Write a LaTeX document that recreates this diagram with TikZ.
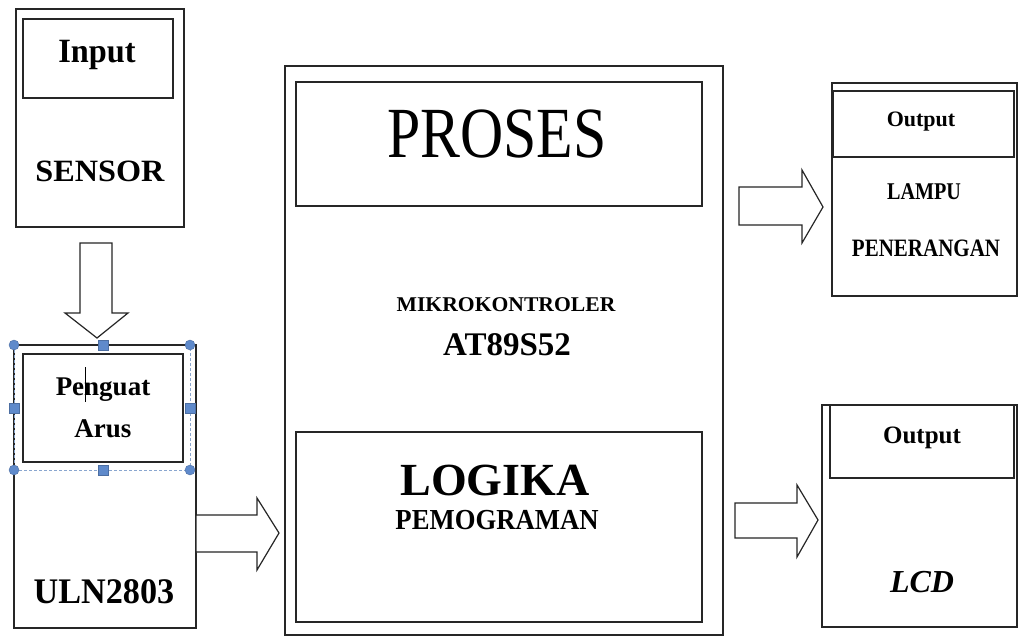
\documentclass[tikz,border=0pt]{standalone}
\usepackage{fontspec}
\usepackage{graphicx}
\setmainfont{Liberation Serif}
\definecolor{linec}{HTML}{262626}
\definecolor{selblue}{HTML}{5F8ACB}
\definecolor{seldash}{HTML}{8AA6CF}
\newcommand{\fs}[1]{\fontsize{#1}{#1}\selectfont}
\newcommand{\hs}[2]{\scalebox{#1}[1]{#2}}
\begin{document}
\begin{tikzpicture}[x=1pt,y=-1pt,
  box/.style={draw=linec, line width=1.3pt, fill=white, inner sep=0pt, outer sep=0pt},
  lbl/.style={anchor=base, inner sep=0pt, text=black},
  blk/.style={draw=linec, line width=1.2pt, fill=white, line join=miter},
  hnd/.style={fill=selblue, draw=selblue!80!black, line width=0.4pt}]
\useasboundingbox (0,0) rectangle (1019,639);
\fill[white] (0,0) rectangle (1019,639);

% left column
\node[box, minimum width=168pt, minimum height=218pt] (sensor) at (100,118) {};
\node[box, minimum width=150pt, minimum height=79pt] (input) at (98,58.5) {};
\node[lbl] (tinput) at (97,63) {\fs{34}\bfseries\hs{0.95}{Input}};
\node[lbl] (tsensor) at (100,182) {\fs{31}\bfseries\hs{1.04}{SENSOR}};

\node[box, minimum width=182pt, minimum height=283pt] (uln) at (105,486.5) {};
\node[box, minimum width=160pt, minimum height=108pt] (penguat) at (103,408) {};
\node[lbl] (tpenguat) at (103,395) {\fs{27}\bfseries Penguat};
\node[lbl] (tarus) at (103,437) {\fs{27}\bfseries Arus};
\node[lbl] (tuln) at (104,603) {\fs{36}\bfseries\hs{0.95}{ULN2803}};
\draw[black, line width=1pt] (85,367) -- (85,402);

% selection frame
\draw[seldash, line width=0.7pt, dash pattern=on 3pt off 2pt] (14,345) rectangle (190,470);
\draw[linec, line width=1.3pt] (14,345) -- (190,345);
\foreach \p in {(14,345),(190,345),(14,470),(190,470)} \draw[hnd] \p circle (5);
\foreach \p in {(103,345),(14,408),(190,408),(103,470)} \draw[hnd] \p ++(-5,-5) rectangle ++(10,10);

% down arrow sensor -> uln
\draw[blk] (80,243) -- (112,243) -- (112,313) -- (128,313) -- (97,338) -- (65,313) -- (80,313) -- cycle;

% central block
\node[box, minimum width=438pt, minimum height=569pt] (proc) at (504,350.5) {};
\node[box, minimum width=406pt, minimum height=124pt] (proses) at (499,144) {};
\node[box, minimum width=406pt, minimum height=190pt] (logika) at (499,527) {};
\node[lbl] (tproses) at (497,158) {\fs{72}\hs{0.83}{PROSES}};
\node[lbl] (tmikro) at (506,311) {\fs{21}\bfseries\hs{1.03}{MIKROKONTROLER}};
\node[lbl] (tat) at (507,355) {\fs{33}\bfseries AT89S52};
\node[lbl] (tlogika) at (495,495) {\fs{46}\bfseries LOGIKA};
\node[lbl] (tpemo) at (497,529) {\fs{29}\bfseries\hs{0.92}{PEMOGRAMAN}};

% arrow uln -> proc
\draw[blk] (196,515) -- (257,515) -- (257,498) -- (279,533) -- (257,570) -- (257,552) -- (196,552) -- cycle;

% right top
\node[box, minimum width=185pt, minimum height=213pt] (lampu) at (924.5,189.5) {};
\node[box, minimum width=181pt, minimum height=66pt] (out1) at (923.5,124) {};
\node[lbl] (tout1) at (921,127) {\fs{22}\bfseries Output};
\node[lbl] (tlampu) at (924,200) {\fs{24}\bfseries\hs{0.84}{LAMPU}};
\node[lbl] (tpener) at (926,256) {\fs{25}\bfseries\hs{0.84}{PENERANGAN}};
\draw[blk] (739,187) -- (802,187) -- (802,170) -- (823,207) -- (802,243) -- (802,225) -- (739,225) -- cycle;

% right bottom
\node[box, minimum width=195pt, minimum height=222pt] (lcd) at (919.5,516) {};
\node[box, minimum width=184pt, minimum height=73pt] (out2) at (922,441.5) {};
\node[lbl] (tout2) at (922,443) {\fs{25}\bfseries Output};
\node[lbl] (tlcd) at (922,592) {\fs{32}\bfseries\itshape LCD};
\draw[blk] (735,503) -- (797,503) -- (797,485) -- (818,520) -- (797,557) -- (797,538) -- (735,538) -- cycle;
\end{tikzpicture}
\end{document}
